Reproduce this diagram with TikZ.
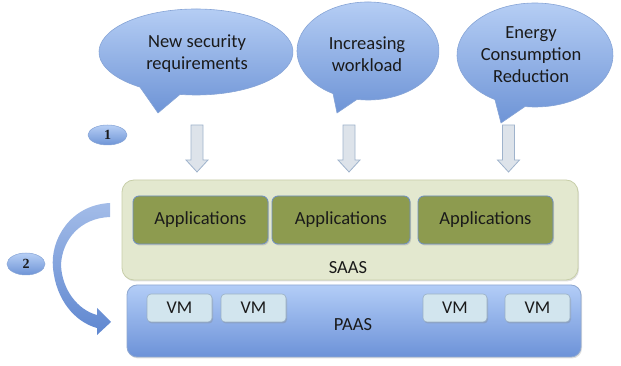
\documentclass[tikz,border=0pt]{standalone}
\usepackage{fontspec}
\setmainfont{Carlito}
\newfontfamily\badgefont{Liberation Serif}
\usetikzlibrary{shapes.geometric,shadows}
\definecolor{bubtop}{HTML}{B7CFF5}
\definecolor{bubbot}{HTML}{6E94D6}
\definecolor{bubline}{HTML}{86A4D6}
\definecolor{saasfill}{HTML}{E3E8CF}
\definecolor{saasline}{HTML}{C7CEA8}
\definecolor{appfill}{HTML}{8D9B4F}
\definecolor{appline}{HTML}{6F8FC4}
\definecolor{paastop}{HTML}{B3CDF7}
\definecolor{paasbot}{HTML}{6C92D8}
\definecolor{paasline}{HTML}{8FA8D0}
\definecolor{vmfill}{HTML}{D2E5EE}
\definecolor{vmline}{HTML}{9AB0C4}
\definecolor{arrfill}{HTML}{DDE3EA}
\definecolor{arrline}{HTML}{9FB3CC}
\definecolor{curvetop}{HTML}{A3BCE8}
\definecolor{curvebot}{HTML}{5F87D0}
\definecolor{txt}{HTML}{1A1A1A}
\tikzset{
  bubble/.style={top color=bubtop, bottom color=bubbot, draw=bubline, line width=0.6pt},
  bubtext/.style={align=center, font=\fontsize{18.5}{22}\selectfont, text=txt},
  appbox/.style={draw=appline, fill=appfill, rounded corners=6pt, line width=0.8pt,
    minimum height=48pt, inner sep=0pt, font=\fontsize{18.5}{22}\selectfont, text=txt,
    drop shadow={shadow xshift=1pt, shadow yshift=-1.5pt, opacity=0.3}},
  vmbox/.style={draw=vmline, fill=vmfill, rounded corners=4pt, line width=0.6pt,
    minimum height=28pt, inner sep=0pt, font=\fontsize{18}{22}\selectfont, text=txt,
    drop shadow={shadow xshift=1pt, shadow yshift=-1.5pt, opacity=0.3}},
  layerlabel/.style={font=\fontsize{18.5}{22}\selectfont, text=txt},
  blockarrow/.style={fill=arrfill, draw=arrline, line width=0.8pt, line join=miter},
  badge/.style={ellipse, top color=bubtop, bottom color=bubbot, draw=bubline, line width=0.5pt,
    inner sep=0pt, font=\badgefont\bfseries\fontsize{14}{14}\selectfont, text=txt}
}
\begin{document}
\begin{tikzpicture}[x=1pt,y=1pt]
\useasboundingbox (0,0) rectangle (621,366);

% speech bubbles
\shadedraw[bubble] (158,253) -- ([shift={(196,314)}]260.5:97 and 43)
  arc[start angle=260.5, end angle=594.7, x radius=97, y radius=43] -- cycle;
\node[bubtext] (b1) at (197,312) {New security\\requirements};

\shadedraw[bubble] (337,253) -- ([shift={(368,315)}]261.1:71 and 49)
  arc[start angle=261.1, end angle=600.5, x radius=71, y radius=49] -- cycle;
\node[bubtext] (b2) at (367,312) {Increasing\\workload};

\shadedraw[bubble] (501,243) -- ([shift={(535,311)}]262.6:78 and 52)
  arc[start angle=262.6, end angle=599.1, x radius=78, y radius=52] -- cycle;
\node[bubtext] (b3) at (531,311) {Energy\\Consumption\\Reduction};

% block arrows
\foreach \ax/\nm in {197/a1,349/a2,508.5/a3}{
  \draw[blockarrow] (\ax-6,241) -- (\ax+6,241) -- (\ax+6,206) -- (\ax+11,206)
    -- (\ax,194) -- (\ax-11,206) -- (\ax-6,206) -- cycle;
}

% badges
\node[badge, minimum width=39pt, minimum height=20pt] (n1) at (107.5,231) {1};
\node[badge, minimum width=38pt, minimum height=22pt] (n2) at (26,102) {2};

% SAAS layer
\node[draw=saasline, fill=saasfill, rounded corners=12pt, line width=0.8pt,
  minimum width=456pt, minimum height=100pt,
  drop shadow={shadow xshift=1pt, shadow yshift=-1.5pt, opacity=0.25}] (saas) at (350,136) {};
\node[appbox, minimum width=135pt] (app1) at (200.5,146) {Applications};
\node[appbox, minimum width=138pt] (app2) at (341,146) {Applications};
\node[appbox, minimum width=135pt] (app3) at (485.5,146) {Applications};
\node[layerlabel] (saaslbl) at (348,98) {SAAS};

% PAAS layer
\node[top color=paastop, bottom color=paasbot, draw=paasline, rounded corners=10pt, line width=0.8pt,
  minimum width=454pt, minimum height=72pt,
  drop shadow={shadow xshift=1pt, shadow yshift=-1.5pt, opacity=0.25}] (paas) at (354,45) {};
\node[vmbox, minimum width=65pt] (vm1) at (179.5,58) {VM};
\node[vmbox, minimum width=65pt] (vm2) at (253.5,58) {VM};
\node[vmbox, minimum width=64pt] (vm3) at (455,58) {VM};
\node[vmbox, minimum width=65pt] (vm4) at (537.5,58) {VM};
\node[layerlabel] (paaslbl) at (353,41) {PAAS};

% curved arrow from SAAS to PAAS
\shade[top color=curvetop, bottom color=curvebot]
  (110,163) .. controls (70,161) and (50,126) .. (53,98)
  .. controls (56,66) and (75,44) .. (97,38)
  -- (97,31) -- (111,44) -- (97,58) -- (97,51)
  .. controls (78,56) and (62,76) .. (61,101)
  .. controls (62,126) and (80,148) .. (110,149) -- cycle;
\end{tikzpicture}
\end{document}
